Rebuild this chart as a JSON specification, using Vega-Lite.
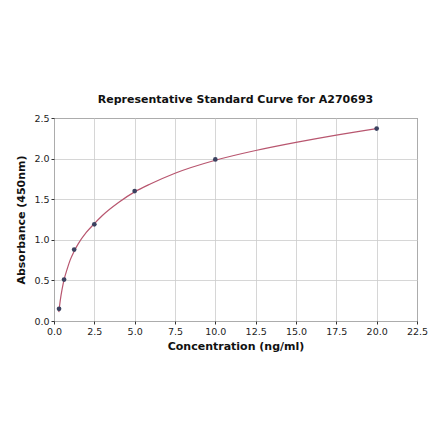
{
  "$schema": "https://vega.github.io/schema/vega-lite/v6.json",
  "width": 363,
  "height": 203,
  "autosize": {"type": "none"},
  "padding": {"left": 54, "top": 118, "right": 23, "bottom": 120},
  "background": "white",
  "title": {
    "text": "Representative Standard Curve for A270693",
    "font": "DejaVu Sans",
    "fontSize": 11,
    "fontWeight": "bold",
    "color": "#111111",
    "offset": 8
  },
  "config": {
    "font": "DejaVu Sans",
    "view": {"stroke": "#333333", "strokeWidth": 1},
    "axis": {
      "domain": false,
      "grid": true,
      "gridColor": "#cccccc",
      "gridWidth": 0.8,
      "tickColor": "#333333",
      "tickSize": 3,
      "labelFlush": false,
      "labelFontSize": 9.5,
      "labelColor": "#222222",
      "labelPadding": 2,
      "titleFontSize": 11,
      "titleFontWeight": "bold",
      "titleColor": "#111111"
    }
  },
  "datasets": {
    "curve": [
      {"conc": 0.3, "od": 0.11},
      {"conc": 0.4, "od": 0.27},
      {"conc": 0.5, "od": 0.39},
      {"conc": 0.625, "od": 0.51},
      {"conc": 0.8, "od": 0.63},
      {"conc": 1.0, "od": 0.75},
      {"conc": 1.25, "od": 0.86},
      {"conc": 1.5, "od": 0.95},
      {"conc": 2.0, "od": 1.09},
      {"conc": 2.5, "od": 1.2},
      {"conc": 3.0, "od": 1.3},
      {"conc": 4.0, "od": 1.46},
      {"conc": 5.0, "od": 1.59},
      {"conc": 6.0, "od": 1.69},
      {"conc": 7.5, "od": 1.82},
      {"conc": 10.0, "od": 1.98},
      {"conc": 12.5, "od": 2.1},
      {"conc": 15.0, "od": 2.2},
      {"conc": 17.5, "od": 2.29},
      {"conc": 20.0, "od": 2.37}
    ],
    "standards": [
      {"conc": 0.3125, "od": 0.15},
      {"conc": 0.625, "od": 0.51},
      {"conc": 1.25, "od": 0.88},
      {"conc": 2.5, "od": 1.19},
      {"conc": 5.0, "od": 1.6},
      {"conc": 10.0, "od": 1.99},
      {"conc": 20.0, "od": 2.37}
    ]
  },
  "layer": [
    {
      "data": {"name": "curve"},
      "mark": {"type": "line", "color": "#b8566f", "strokeWidth": 1.2, "interpolate": "monotone"},
      "encoding": {
        "x": {
          "field": "conc",
          "type": "quantitative",
          "title": "Concentration (ng/ml)",
          "scale": {"domain": [0, 22.5], "nice": false, "padding": 0},
          "axis": {"values": [0, 2.5, 5, 7.5, 10, 12.5, 15, 17.5, 20, 22.5], "format": ".1f", "titlePadding": 5}
        },
        "y": {
          "field": "od",
          "type": "quantitative",
          "title": "Absorbance (450nm)",
          "scale": {"domain": [0, 2.5], "nice": false, "padding": 0},
          "axis": {"values": [0, 0.5, 1, 1.5, 2, 2.5], "format": ".1f", "titlePadding": 7}
        }
      }
    },
    {
      "data": {"name": "standards"},
      "mark": {"type": "circle", "color": "#3b4260", "opacity": 1, "size": 22},
      "encoding": {
        "x": {"field": "conc", "type": "quantitative"},
        "y": {"field": "od", "type": "quantitative"}
      }
    }
  ]
}
